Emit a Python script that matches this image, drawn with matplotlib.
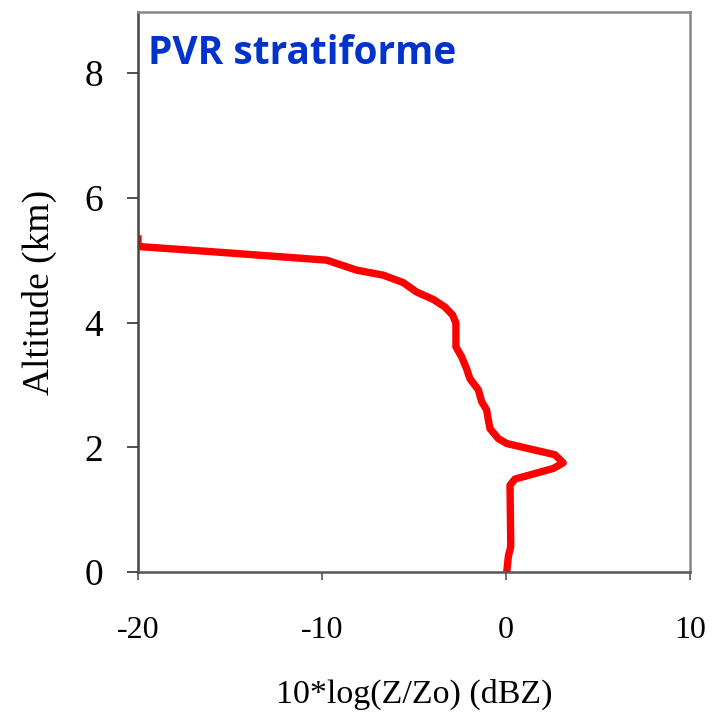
import matplotlib
matplotlib.use('Agg')
import matplotlib.pyplot as plt

# profile values: reflectivity ratio (dBZ) vs altitude (km)
dbz = [-20.0, -20.0, -15.7, -9.74, -8.11, -6.67, -5.58, -4.86, -3.95, -3.32, -2.9,
       -2.72, -2.72, -2.41, -2.14, -1.96, -1.5, -1.32, -1.05, -0.96, -0.87, -0.42,
       0.04, 0.76, 2.66, 3.11, 2.57, 0.49, 0.22, 0.26, 0.13, 0.04]
alt = [5.40, 5.22, 5.13, 5.00, 4.84, 4.76, 4.64, 4.49, 4.37, 4.25, 4.12,
       3.99, 3.61, 3.45, 3.26, 3.10, 2.92, 2.73, 2.60, 2.44, 2.30, 2.14,
       2.06, 2.01, 1.88, 1.75, 1.66, 1.49, 1.39, 0.41, 0.25, 0.0]

xticks = [-20, -10, 0, 10]
yticks = [0, 2, 4, 6, 8]

fig = plt.figure(figsize=(7.13, 7.22), dpi=100)
ax = fig.add_axes([0.1935, 0.2078, 0.7742, 0.7756])

ax.plot(dbz, alt, color='#ff0000', lw=5.3, solid_joinstyle='round', solid_capstyle='butt')

ax.set_xlim(-20, 10)
ax.set_ylim(0, 8.98)
ax.set_xticks(xticks)
ax.set_yticks(yticks)

serif = ['Liberation Serif', 'DejaVu Serif']
ax.set_xticklabels([str(v) for v in xticks], family=serif, fontsize=23)
ax.set_yticklabels([str(v) for v in yticks], family=serif, fontsize=27)
ax.tick_params(axis='x', direction='out', length=6, width=1.2, pad=26, color='#555555')
ax.tick_params(axis='y', direction='out', length=8, width=1.2, pad=17, color='#333333')

ax.set_xlabel('10*log(Z/Zo) (dBZ)', family=serif, fontsize=24.5, labelpad=24)
ax.set_ylabel('Altitude (km)', family=serif, fontsize=27, labelpad=20)

for side in ['top', 'right']:
    ax.spines[side].set_color('#888888')
    ax.spines[side].set_linewidth(1.8)
ax.spines['left'].set_color('#444444')
ax.spines['left'].set_linewidth(1.8)
ax.spines['bottom'].set_color('#555555')
ax.spines['bottom'].set_linewidth(1.8)

ax.text(0.018, 0.925, 'PVR stratiforme', transform=ax.transAxes, ha='left', va='center',
        fontsize=28, fontweight='bold', color='#0033cc', family=['Open Sans', 'DejaVu Sans'])

fig.savefig('out.png', dpi=100)
